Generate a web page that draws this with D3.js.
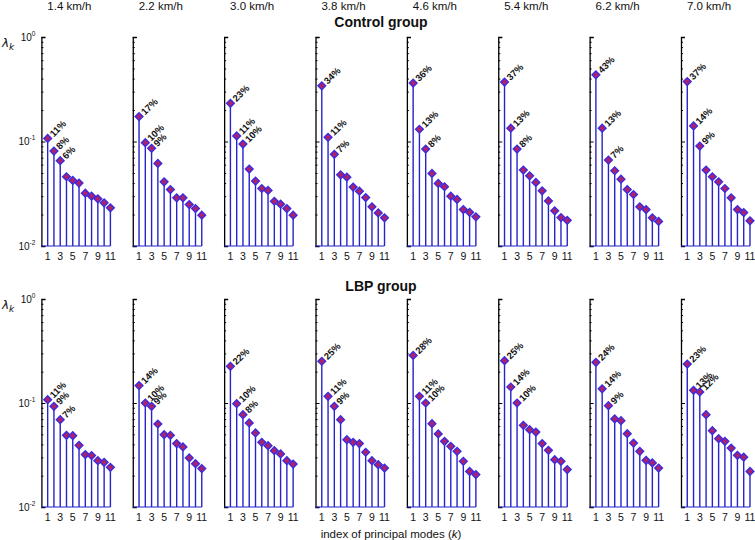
<!DOCTYPE html>
<html><head><meta charset="utf-8">
<script src="https://cdn.jsdelivr.net/npm/d3@7"></script>
<style>body{margin:0;background:#fff}svg{display:block;font-family:"Liberation Sans",Arial,sans-serif}</style>
</head><body>
<svg id="c" width="755" height="540"></svg>
<script>
const speeds = ["1.4 km/h","2.2 km/h","3.0 km/h","3.8 km/h","4.6 km/h","5.4 km/h","6.2 km/h","7.0 km/h"];
const modes = [1,2,3,4,5,6,7,8,9,10,11];
const xTickLabels = [1,3,5,7,9,11];
const yMajorTicks = [0.01, 0.1, 1];
const yMajorExp = ["-2","-1","0"];

const controlValues = [
  [0.107,0.081,0.0655,0.046,0.0424,0.040,0.032,0.030,0.0283,0.0259,0.0232],
  [0.173,0.0975,0.086,0.0617,0.0411,0.0347,0.0289,0.0289,0.0249,0.0228,0.0197],
  [0.232,0.113,0.0946,0.0545,0.0418,0.0355,0.034,0.0268,0.0251,0.0228,0.0197],
  [0.341,0.1096,0.0753,0.048,0.0456,0.0366,0.0335,0.0291,0.0237,0.0207,0.0186],
  [0.362,0.131,0.0847,0.0495,0.0397,0.0369,0.030,0.0279,0.0223,0.021,0.019],
  [0.37,0.134,0.0847,0.0533,0.047,0.0406,0.0337,0.027,0.0217,0.0187,0.0176],
  [0.435,0.134,0.0665,0.0525,0.0436,0.0347,0.0311,0.0237,0.0223,0.0186,0.0172],
  [0.375,0.141,0.0905,0.0533,0.046,0.0411,0.0355,0.0289,0.0223,0.0209,0.0174]
];
const controlPct = [
  ["11%","8%","6%"],["17%","10%","9%"],["23%","11%","10%"],["34%","11%","7%"],
  ["36%","13%","8%"],["37%","13%","8%"],["43%","13%","7%"],["37%","14%","9%"]
];
const lbpValues = [
  [0.1077,0.0929,0.0692,0.0489,0.0485,0.0392,0.0319,0.0312,0.0279,0.0269,0.0241],
  [0.147,0.100,0.0929,0.0628,0.0496,0.0489,0.0407,0.0378,0.0296,0.0261,0.0234],
  [0.225,0.0986,0.0773,0.0643,0.0515,0.0419,0.0389,0.0348,0.0324,0.0279,0.0259],
  [0.252,0.116,0.0929,0.0692,0.0444,0.0419,0.0407,0.0336,0.0279,0.0255,0.0237],
  [0.287,0.116,0.100,0.0633,0.0504,0.0428,0.0383,0.0343,0.0275,0.022,0.0205],
  [0.255,0.1425,0.100,0.061,0.0554,0.0526,0.0407,0.0351,0.0285,0.0275,0.0229],
  [0.246,0.137,0.0943,0.0702,0.0676,0.0507,0.0412,0.0343,0.0281,0.0265,0.0237],
  [0.237,0.1324,0.1276,0.0773,0.0542,0.0454,0.0428,0.0369,0.0314,0.0301,0.022]
];
const lbpPct = [
  ["11%","9%","7%"],["14%","10%","9%"],["22%","10%","8%"],["25%","11%","9%"],
  ["28%","11%","10%"],["25%","14%","10%"],["24%","14%","9%"],["23%","13%","12%"]
];

const svg = d3.select("#c");
const stemColor = "#2424c8", markerFill = "#b0206a", markerStroke = "#3c2ce0";
const rows = [
  {title:"Control group", values:controlValues, pct:controlPct, top:37, bottom:246, titleY:27, lamY:47},
  {title:"LBP group", values:lbpValues, pct:lbpPct, top:299, bottom:507, titleY:291, lamY:309}
];
const panelX0 = i => 41.4 + i*91.37;
const panelW = 69.0;

speeds.forEach((s,i)=>{
  svg.append("text").attr("x", panelX0(i)+28).attr("y", 10).attr("text-anchor","middle")
    .attr("font-size", 11.5).attr("fill","#111").text(s);
});

const minorTicks = [];
[0.01,0.1].forEach(d=>{for(let m=2;m<=9;m++) minorTicks.push(d*m);});

rows.forEach(row=>{
  svg.append("text").attr("x", 381).attr("y", row.titleY).attr("text-anchor","middle")
    .attr("font-size", 14).attr("font-weight","bold").attr("fill","#111").text(row.title);
  const lam = svg.append("text").attr("x", 2).attr("y", row.lamY).attr("font-size", 12)
    .attr("fill","#111").attr("font-family","DejaVu Sans, sans-serif");
  lam.append("tspan").attr("font-style","italic").text("λ");
  lam.append("tspan").attr("dy", 3).attr("font-size", 9).attr("font-style","italic").text("k");

  const y = d3.scaleLog().domain([0.01,1]).range([row.bottom,row.top]);
  row.values.forEach((vals,i)=>{
    const x0 = panelX0(i);
    const x = d3.scaleLinear().domain([0,11]).range([x0, x0+panelW]);
    const g = svg.append("g");
    const ax = d3.axisLeft(y).tickValues(yMajorTicks).tickSize(-4).tickFormat("");
    const ga = g.append("g").attr("transform",`translate(${x0},0)`).call(ax);
    ga.select(".domain").attr("stroke","#000").attr("stroke-width",1.3);
    ga.selectAll(".tick line").attr("stroke","#000");
    const axm = d3.axisLeft(y).tickValues(minorTicks).tickSize(-2).tickFormat("");
    const gm = g.append("g").attr("transform",`translate(${x0},0)`).call(axm);
    gm.select(".domain").remove();
    gm.selectAll(".tick line").attr("stroke","#000");
    if(i===0){
      yMajorTicks.forEach((t,j)=>{
        const tx = g.append("text").attr("x", x0-6).attr("y", y(t)+3.5).attr("text-anchor","end")
          .attr("font-size", 10).attr("fill","#111");
        tx.append("tspan").text("10");
        tx.append("tspan").attr("dy",-5).attr("font-size",6.5).text(yMajorExp[j]);
      });
    }
    g.append("line").attr("x1",x(0)).attr("x2",x(11)).attr("y1",y(0.01)).attr("y2",y(0.01))
      .attr("stroke",stemColor).attr("stroke-width",1.2);
    xTickLabels.forEach(k=>{
      g.append("text").attr("x",x(k)).attr("y",row.bottom+13.5).attr("text-anchor","middle")
        .attr("font-size",10.5).attr("fill","#111").text(k);
    });
    g.selectAll(".stem").data(vals).join("line")
      .attr("x1",(d,k)=>x(modes[k])).attr("x2",(d,k)=>x(modes[k]))
      .attr("y1",y(0.01)).attr("y2",d=>y(d))
      .attr("stroke",stemColor).attr("stroke-width",1.4);
    g.selectAll(".mk").data(vals).join("path")
      .attr("d", d3.symbol().type(d3.symbolSquare).size(30))
      .attr("transform",(d,k)=>`translate(${x(modes[k])},${y(d)}) rotate(45)`)
      .attr("fill",markerFill).attr("stroke",markerStroke).attr("stroke-width",1.4);
    row.pct[i].forEach((p,k)=>{
      const px = x(modes[k])+6, py = y(vals[k])-1;
      g.append("text").attr("transform",`translate(${px},${py}) rotate(-45)`)
        .attr("font-size",9.5).attr("font-weight","bold").attr("fill","#111").text(p);
    });
  });
});

svg.append("text").attr("x",391).attr("y",538).attr("text-anchor","middle")
  .attr("font-size",11.5).attr("fill","#111")
  .call(t=>{t.append("tspan").text("index of principal modes (");
    t.append("tspan").attr("font-style","italic").text("k");
    t.append("tspan").text(")");});
</script>
</body></html>
